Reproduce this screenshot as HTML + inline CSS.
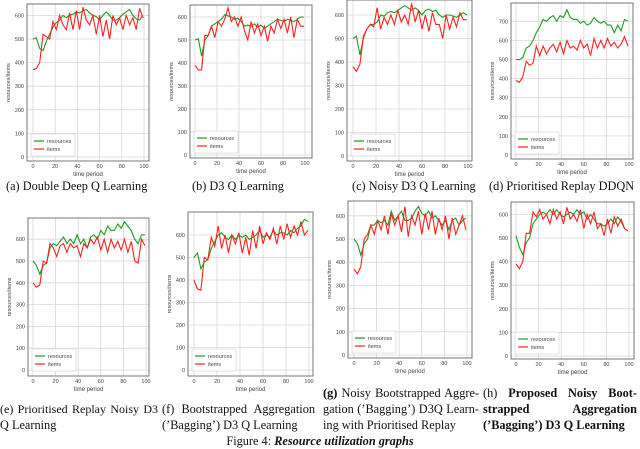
<!DOCTYPE html>
<html><head><meta charset="utf-8"><style>
body{margin:0;background:#fff;width:640px;height:449px;overflow:hidden;position:relative;font-family:"Liberation Serif",serif}
svg{position:absolute;left:0;top:0}
.cap{position:absolute;font-size:12.3px;line-height:16px;color:#111;white-space:nowrap}
.j{text-align:justify;text-align-last:justify;white-space:normal}
</style></head><body>
<svg id="chart" width="640" height="449"></svg>

<div class="cap" style="left:6px;top:178px">(a) Double Deep Q Learning</div>
<div class="cap" style="left:192px;top:178px">(b) D3 Q Learning</div>
<div class="cap" style="left:352px;top:178px">(c) Noisy D3 Q Learning</div>
<div class="cap" style="left:489px;top:178px">(d) Prioritised Replay DDQN</div>

<div>
<div class="cap j" style="left:0px;top:401px;width:158px;font-size:12px">(e) Prioritised Replay Noisy D3</div>
<div class="cap" style="left:0px;top:417px">Q Learning</div>
</div>
<div>
<div class="cap j" style="left:162px;top:401px;width:153px">(f) Bootstrapped Aggregation</div>
<div class="cap" style="left:162px;top:417px">(’Bagging’) D3 Q Learning</div>
</div>
<div>
<div class="cap j" style="left:323px;top:385px;width:156px"><b>(g)</b> Noisy Bootstrapped Aggre-</div>
<div class="cap j" style="left:323px;top:401px;width:156px">gation (’Bagging’) D3Q Learn-</div>
<div class="cap" style="left:323px;top:417px">ing with Prioritised Replay</div>
</div>
<div>
<div class="cap j" style="left:483px;top:385px;width:154px">(h) <b>Proposed Noisy Boot-</b></div>
<div class="cap j" style="left:483px;top:401px;width:154px"><b>strapped Aggregation</b></div>
<div class="cap" style="left:483px;top:417px"><b>(’Bagging’) D3 Q Learning</b></div>
</div>
<div class="cap" style="left:0;top:433px;width:640px;text-align:center">Figure 4: <b><i>Resource utilization graphs</i></b></div>

<script>
const xTicks=[0,20,40,60,80,100];
const resA=[500,505,460,450,490,520,550,570,580,600,590,600,605,615,610,620,625,610,600,595,580,600,615,600,580,580,590,605,615,625,600,585,580,600];
const itemsA=[370,375,400,520,510,500,575,540,600,560,540,610,540,620,540,635,580,560,600,520,600,510,580,500,600,560,590,540,600,560,590,540,630,590];
const resB=[500,505,430,500,520,560,570,580,590,610,605,600,590,595,580,560,565,560,570,555,565,550,560,570,580,590,585,580,590,585,580,590,600,600];
const itemsB=[390,370,370,520,520,560,510,580,560,590,640,580,600,560,600,540,500,580,530,570,520,560,495,560,530,590,550,590,530,600,510,590,560,560];
const resC=[500,510,430,500,540,560,560,570,600,595,610,615,610,620,630,640,630,620,630,620,600,620,625,615,620,600,590,600,600,595,590,600,610,600];
const itemsC=[380,360,390,510,540,560,550,630,540,590,560,600,560,620,570,600,560,650,570,620,540,600,530,610,560,560,500,600,540,590,550,610,580,580];
const resD=[500,500,510,560,570,600,640,670,710,700,720,730,700,730,720,760,720,710,710,690,700,680,690,720,700,690,700,680,680,640,680,650,710,700];
const itemsD=[390,380,410,490,470,480,570,520,570,530,560,580,540,590,530,600,560,570,550,600,560,580,520,610,560,600,560,610,570,590,560,580,620,570];
const resE=[500,480,440,480,490,560,580,570,590,610,580,600,580,620,580,600,560,610,620,600,640,620,660,640,640,670,650,680,660,640,600,580,620,620];
const itemsE=[400,380,390,500,490,580,560,520,570,580,540,580,560,570,520,580,560,600,580,610,550,600,540,600,560,590,550,600,540,590,500,490,600,570];
const resF=[500,520,450,480,490,540,570,600,610,590,580,600,580,600,590,600,580,590,600,620,590,600,590,620,600,610,610,600,620,610,630,640,670,660];
const itemsF=[400,360,355,500,490,590,550,640,540,600,520,600,560,610,520,590,510,620,540,640,560,610,580,630,560,640,580,650,590,640,600,660,600,620];
const resG=[500,480,430,480,500,560,560,580,570,580,560,620,580,600,620,580,580,590,620,640,610,600,620,590,600,580,560,580,540,580,590,560,580,590];
const itemsG=[370,350,380,500,520,560,520,580,540,600,520,610,560,600,530,640,510,600,560,620,520,610,540,620,520,590,540,600,500,590,520,560,600,540];
const resH=[510,460,430,480,500,560,580,600,610,600,620,600,620,600,590,600,610,600,620,600,610,580,600,580,560,560,550,560,580,560,590,570,540,530];
const itemsH=[390,370,400,520,520,610,590,620,580,600,560,620,580,610,560,630,580,600,570,620,540,600,560,610,540,560,510,580,520,590,550,580,540,530];
const yTicksA=[0,100,200,300,400,500,600];
const yTicksD=[0,100,200,300,400,500,600,700];
const stepX=3;

const panels=[
 {id:'a',L:27,R:149,T:4,B:161,x0:33,x100:144,y0:157,k:23.6,ticks:yTicksA,res:resA,items:itemsA},
 {id:'b',L:190,R:312,T:5,B:158,x0:195,x100:305,y0:155,k:23,ticks:yTicksA,res:resB,items:itemsB},
 {id:'c',L:347,R:472,T:0,B:161,x0:353,x100:468,y0:156,k:23.5,ticks:yTicksA,res:resC,items:itemsC},
 {id:'d',L:511,R:633,T:3,B:159,x0:516,x100:629,y0:155,k:19.1,ticks:yTicksD,res:resD,items:itemsD},
 {id:'e',L:28,R:149,T:218,B:376,x0:33,x100:146,y0:370,k:21.8,ticks:yTicksA,res:resE,items:itemsE},
 {id:'f',L:188,R:313,T:212,B:376,x0:194,x100:309,y0:370,k:22.5,ticks:yTicksA,res:resF,items:itemsF},
 {id:'g',L:348,R:472,T:201,B:358,x0:354,x100:467,y0:355,k:23.2,ticks:yTicksA,res:resG,items:itemsG},
 {id:'h',L:511,R:634,T:202,B:359,x0:516,x100:629,y0:356,k:23.6,ticks:yTicksA,res:resH,items:itemsH}
];
const NS='http://www.w3.org/2000/svg';
const svg=document.getElementById('chart');
function mk(tag,attrs,parent){const e=document.createElementNS(NS,tag);for(const a in attrs)e.setAttribute(a,attrs[a]);parent.appendChild(e);return e;}
panels.forEach(p=>{
 const g=mk('g',{},svg);
 
 
 const xs=v=>p.x0+(p.x100-p.x0)*v/100;
 const ys=v=>p.y0-v*p.k/100;
 mk('rect',{x:p.L,y:p.T,width:p.R-p.L,height:p.B-p.T,fill:'#fff'},g);
 xTicks.forEach(t=>{
  const l=mk('line',{x1:xs(t),x2:xs(t),y1:p.T,y2:p.B,stroke:'#d8d8d8','stroke-width':0.8},g);
  
  
  const tx=mk('text',{x:xs(t),y:p.B+7,'font-size':5.5,'text-anchor':'middle',fill:'#444','font-family':'Liberation Sans, sans-serif'},g);
  tx.textContent=t;
  
  
 });
 p.ticks.forEach(t=>{
  const y=ys(t);
  if(y<p.T)return;
  const l=mk('line',{x1:p.L,x2:p.R,y1:y,y2:y,stroke:'#d8d8d8','stroke-width':0.8},g);
  
  
  const tx=mk('text',{x:p.L-3,y:y+2,'font-size':5.5,'text-anchor':'end',fill:'#444','font-family':'Liberation Sans, sans-serif'},g);
  tx.textContent=t;
  
  
 });
 const box=mk('rect',{x:p.L,y:p.T,width:p.R-p.L,height:p.B-p.T,fill:'none',stroke:'#555','stroke-width':0.8},g);
 
 
 [[p.res,'#1f9a1f','resources-line'],[p.items,'#ff2020','items-line']].forEach(([arr,c,n])=>{
  const d=arr.map((v,i)=>(i?'L':'M')+xs(i*stepX).toFixed(1)+','+ys(v).toFixed(1)).join('');
  const pa=mk('path',{d:d,fill:'none',stroke:c,'stroke-width':1.1},g);
  
  
 });
 const xl=mk('text',{x:(p.L+p.R)/2,y:p.B+15,'font-size':6,'text-anchor':'middle',fill:'#444','font-family':'Liberation Sans, sans-serif'},g);
 xl.textContent='time period';
 
 
 const cy=(p.T+p.B)/2, cx=p.L-17;
 const yl=mk('text',{x:cx,y:cy,'font-size':5.5,'text-anchor':'middle',fill:'#444','font-family':'Liberation Sans, sans-serif',transform:'rotate(-90 '+cx+' '+cy+')'},g);
 yl.textContent='resources/items';
 
 
 const lg=mk('g',{},g);
 
 
 const lx=p.L+4, ly=p.B-27;
 mk('rect',{x:lx,y:ly,width:44,height:22,fill:'#fff',stroke:'#ccc','stroke-width':0.6,rx:1},lg);
 [['resources','#1f9a1f'],['items','#ff2020']].forEach(([t,c],i)=>{
  const yy=ly+7+i*8;
  mk('line',{x1:lx+3,x2:lx+13,y1:yy,y2:yy,stroke:c,'stroke-width':1.2},lg);
  const tx=mk('text',{x:lx+16,y:yy+2,'font-size':5.5,fill:'#444','font-family':'Liberation Sans, sans-serif'},lg);
  tx.textContent=t;
  
  
 });
});
</script>
</body></html>
